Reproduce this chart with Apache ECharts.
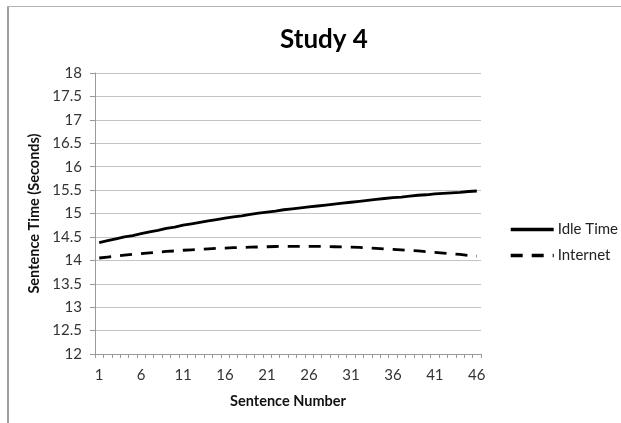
<!DOCTYPE html>
<html>
<head>
<meta charset="utf-8">
<script src="https://cdn.jsdelivr.net/npm/echarts@6/dist/echarts.min.js"></script>
<style>html,body{margin:0;padding:0;background:#fff}#c{width:621px;height:423px}</style>
</head>
<body>
<div id="c"></div>
<script>
const categories = [];
for (let i = 1; i <= 46; i++) categories.push(String(i));
const idleTime = [14.38,14.42,14.46,14.50,14.53,14.57,14.61,14.64,14.68,14.71,
  14.75,14.78,14.81,14.84,14.87,14.90,14.93,14.95,14.98,15.01,
  15.03,15.05,15.08,15.10,15.12,15.14,15.16,15.18,15.20,15.22,
  15.24,15.26,15.28,15.30,15.32,15.34,15.35,15.37,15.39,15.40,
  15.42,15.43,15.44,15.45,15.47,15.48];
const internet = [14.05,14.07,14.09,14.11,14.13,14.145,14.16,14.175,14.19,14.20,
  14.215,14.225,14.235,14.245,14.255,14.26,14.27,14.275,14.28,14.285,
  14.29,14.295,14.30,14.30,14.30,14.30,14.30,14.295,14.29,14.285,
  14.28,14.275,14.265,14.255,14.245,14.235,14.225,14.21,14.20,14.185,
  14.17,14.155,14.14,14.125,14.105,14.09];
const seriesNames = ['Idle Time', 'Internet'];
const titleText = 'Study 4';
const xName = 'Sentence Number';
const yName = 'Sentence Time (Seconds)';

const FONT = 'Lato, "Open Sans", sans-serif';
const chart = echarts.init(document.getElementById('c'), null, {renderer: 'canvas'});
chart.setOption({
  animation: false,
  backgroundColor: '#fff',
  textStyle: {fontFamily: FONT},
  graphic: [
    {type: 'line', shape: {x1: 8, y1: 6, x2: 8, y2: 423}, style: {stroke: '#a0a0a0', lineWidth: 2}},
    {type: 'line', shape: {x1: 7, y1: 6.5, x2: 621, y2: 6.5}, style: {stroke: '#b4b4b4', lineWidth: 1}}
  ],
  title: {
    text: titleText, left: 319, top: 22, textAlign: 'center',
    textStyle: {fontFamily: FONT, fontSize: 26, fontWeight: 'bold', color: '#000'}
  },
  legend: {
    orient: 'vertical', left: 504, top: 217, itemGap: 11, itemWidth: 43, itemHeight: 17,
    itemStyle: {opacity: 0},
    lineStyle: {width: 3.4},
    textStyle: {fontFamily: FONT, fontSize: 15, color: '#222', padding: [0, 0, 0, -1]},
    data: seriesNames
  },
  grid: {left: 95, right: 140, top: 73, bottom: 69},
  xAxis: {
    type: 'category', data: categories, boundaryGap: true,
    name: xName, nameLocation: 'middle', nameGap: 40,
    nameTextStyle: {fontFamily: FONT, fontSize: 14.5, fontWeight: 'bold', color: '#111'},
    axisLine: {lineStyle: {color: '#9a9a9a', width: 1}},
    axisTick: {show: true, interval: 0, length: 4, lineStyle: {color: '#9a9a9a'}},
    axisLabel: {interval: 4, margin: 14, fontSize: 15, color: '#333', fontFamily: FONT},
    splitLine: {show: false}
  },
  yAxis: {
    type: 'value', min: 12, max: 18, interval: 0.5,
    name: yName, nameLocation: 'middle', nameGap: 46, nameRotate: 90,
    nameTextStyle: {fontFamily: FONT, fontSize: 14.5, fontWeight: 'bold', color: '#111'},
    axisLine: {show: true, lineStyle: {color: '#9a9a9a', width: 1}},
    axisTick: {show: true, length: 5, lineStyle: {color: '#9a9a9a'}},
    axisLabel: {margin: 13, fontSize: 15, color: '#333', fontFamily: FONT},
    splitLine: {lineStyle: {color: '#c4c4c4', width: 1}}
  },
  series: [
    {name: seriesNames[0], type: 'line', data: idleTime, symbol: 'none', smooth: false,
     lineStyle: {color: '#000', width: 2.8, type: 'solid'}, itemStyle: {color: '#000'}},
    {name: seriesNames[1], type: 'line', data: internet, symbol: 'none', smooth: false,
     lineStyle: {color: '#000', width: 2.8, type: [12, 9]}, itemStyle: {color: '#000'}}
  ]
});
</script>
</body>
</html>
